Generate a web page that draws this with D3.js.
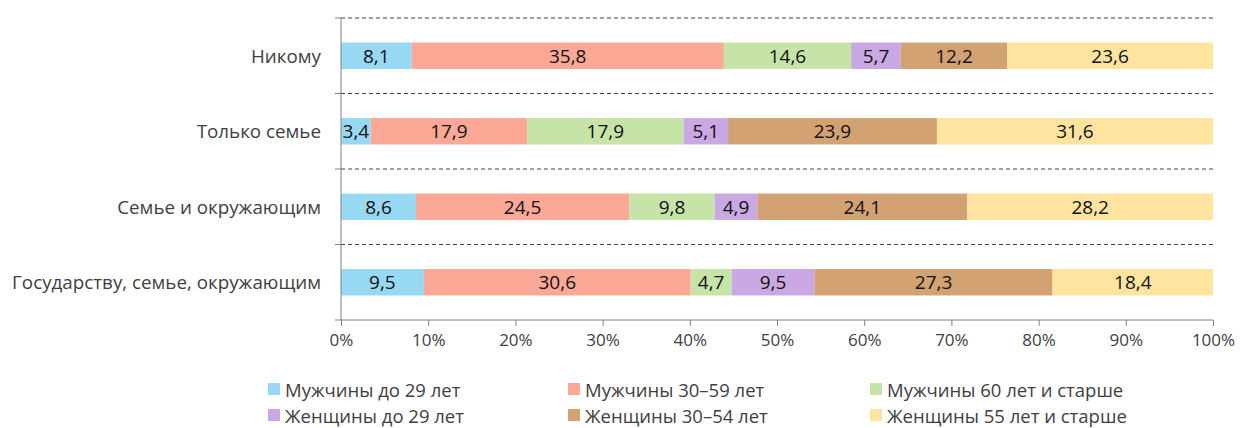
<!DOCTYPE html>
<html><head><meta charset="utf-8">
<script src="https://cdn.jsdelivr.net/npm/d3@7"></script>
<style>body{margin:0;background:#fff}svg{display:block}</style>
</head><body>
<svg id="c" width="1240" height="428"></svg>
<script>
const categories = ["Никому", "Только семье", "Семье и окружающим", "Государству, семье, окружающим"];
const seriesNames = ["Мужчины до 29 лет", "Мужчины 30–59 лет", "Мужчины 60 лет и старше", "Женщины до 29 лет", "Женщины 30–54 лет", "Женщины 55 лет и старше"];
const menU29 = [8.1, 3.4, 8.6, 9.5];
const men30_59 = [35.8, 17.9, 24.5, 30.6];
const men60 = [14.6, 17.9, 9.8, 4.7];
const womenU29 = [5.7, 5.1, 4.9, 9.5];
const women30_54 = [12.2, 23.9, 24.1, 27.3];
const women55 = [23.6, 31.6, 28.2, 18.4];
const xTicks = [0, 10, 20, 30, 40, 50, 60, 70, 80, 90, 100];
const colors = ["#97d8f2", "#fba896", "#c6e4a7", "#c9a8e3", "#d2a272", "#fee49f"];

const series = [menU29, men30_59, men60, womenU29, women30_54, women55];
const FONT = "'Open Sans', sans-serif";
const svg = d3.select("#c");
const m = {l: 341, r: 1213, t: 18, b: 320};
const x = d3.scaleLinear().domain([0, 100]).range([m.l, m.r]);
const y = d3.scaleBand().domain(categories).range([m.t, m.b]).paddingInner(0.65).paddingOuter(0.325);

const bounds = d3.range(categories.length).map(i => m.t + i * (m.b - m.t) / categories.length);
svg.append("g").selectAll("line").data(bounds).join("line")
  .attr("x1", m.l).attr("x2", m.r).attr("y1", d => d).attr("y2", d => d)
  .attr("stroke", "#444").attr("stroke-width", 1).attr("stroke-dasharray", "4,3");
svg.append("g").selectAll("line").data(bounds.concat([m.b])).join("line")
  .attr("x1", m.l - 6).attr("x2", m.l).attr("y1", d => d).attr("y2", d => d)
  .attr("stroke", "#808080");

// 100% stacked: each row normalised to its total
const rows = categories.map((c, i) => {
  const total = d3.sum(series, s => s[i]);
  let acc = 0;
  return series.map((s, k) => { const v = s[i]; const p = v / total * 100; const o = {cat: c, k, x0: acc, x1: acc + p, v}; acc += p; return o; });
});
const gBars = svg.append("g");
rows.flat().forEach(d => {
  gBars.append("rect").attr("x", x(d.x0)).attr("width", x(d.x1) - x(d.x0))
    .attr("y", y(d.cat)).attr("height", y.bandwidth()).attr("fill", colors[d.k]);
  gBars.append("text").attr("x", (x(d.x0) + x(d.x1)) / 2).attr("y", y(d.cat) + y.bandwidth() / 2)
    .attr("text-anchor", "middle").attr("dominant-baseline", "central")
    .attr("font-family", FONT).attr("font-size", 19).attr("fill", "#111")
    .text(d3.format(".1f")(d.v).replace(".", ","));
});

svg.append("g").selectAll("text").data(categories).join("text")
  .attr("x", m.l - 20).attr("y", d => y(d) + y.bandwidth() / 2)
  .attr("text-anchor", "end").attr("dominant-baseline", "central")
  .attr("font-family", FONT).attr("font-size", 18.8).attr("fill", "#404040").text(d => d);

svg.append("line").attr("x1", m.l).attr("x2", m.l).attr("y1", m.t).attr("y2", m.b).attr("stroke", "#808080");
const xAxis = svg.append("g").attr("transform", `translate(0,${m.b})`)
  .call(d3.axisBottom(x).tickValues(xTicks).tickSize(6).tickFormat(d => d + "%"));
xAxis.select(".domain").attr("stroke", "#808080").attr("d", `M${m.l},0H${m.r}`);
xAxis.selectAll(".tick line").attr("stroke", "#808080");
xAxis.selectAll(".tick text").attr("font-family", FONT).attr("font-size", 17).attr("fill", "#404040").attr("dy", "1.0em");

const legX = [268, 568, 870], legY = [389, 415];
seriesNames.forEach((n, i) => {
  const cx = legX[i % 3], cy = legY[Math.floor(i / 3)];
  svg.append("rect").attr("x", cx).attr("y", cy - 6).attr("width", 12).attr("height", 12).attr("fill", colors[i]);
  svg.append("text").attr("x", cx + 17).attr("y", cy).attr("dominant-baseline", "central")
    .attr("font-family", FONT).attr("font-size", 18.5).attr("fill", "#404040").text(n);
});
</script>
</body></html>
